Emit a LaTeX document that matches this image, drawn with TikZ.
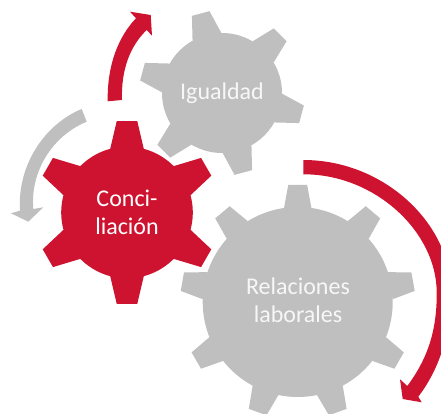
\documentclass[tikz,border=0pt]{standalone}
\usepackage{fontspec}
\setmainfont{Carlito}
\definecolor{gearred}{RGB}{206,19,48}
\definecolor{geargray}{RGB}{191,191,191}
\newcommand{\gearfill}[8]{%
  \fill (#1,#2) circle[radius=#3];
  \foreach \k in {1,...,#7}{
    \pgfmathsetmacro{\ang}{-(#8+360*\k/#7)}
    \fill ($(#1,#2)+(\ang-#5:#3)$) -- ($(#1,#2)+(\ang-#6:#4)$) -- ($(#1,#2)+(\ang+#6:#4)$) -- ($(#1,#2)+(\ang+#5:#3)$) -- cycle;
  }%
}
\usetikzlibrary{calc}
\tikzset{
  geartext/.style={align=center,text=#1,font=\fontsize{18}{21}\selectfont,inner sep=0pt},
}
\begin{document}
\begin{tikzpicture}[x=0.75pt,y=-0.75pt]
\useasboundingbox (0,0) rectangle (441,413);
\clip (0,0) rectangle (441,413);
\begin{scope}[fill=geargray]
  \gearfill{222}{93}{60}{82.8}{14.4}{6.3}{6}{45}
\end{scope}
\begin{scope}[fill=geargray]
  \gearfill{297.7}{302}{95}{117.5}{8.3}{4.6}{9}{90}
\end{scope}
\begin{scope}[fill=gearred]
  \gearfill{127}{212.5}{65.8}{92}{14.8}{6.4}{6}{90}
\end{scope}
\fill[gearred] (107.7,101.3) .. controls (107,66) and (118,37) .. (136,18.3)
  -- (130,11.7) -- (150.7,15) -- (152,35.7) -- (146.7,30)
  .. controls (130,46) and (121,70) .. (122,100) -- cycle;
\fill[geargray] (81.7,109) .. controls (45,124) and (17,165) .. (20,210.7)
  -- (11,213.3) -- (28.3,221.7) -- (43.3,207.3) -- (33.3,209)
  .. controls (30,172) and (52,136) .. (86.7,121.7) -- cycle;
\fill[gearred] (303.3,160) .. controls (385,160) and (452,225) .. (451,293)
  .. controls (451,340) and (435,375) .. (418.3,396.7)
  -- (421.7,402.3) -- (402.7,399) -- (400,379.3) -- (407.3,386)
  .. controls (425,362) and (437,335) .. (436.7,293)
  .. controls (437,232) and (375,174) .. (303.3,174.3) -- cycle;
\node[geartext=geargray!12!white] (igualdad) at (222,93) {Igualdad};
\node[geartext=white] (conciliacion) at (127,212) {Conci-\\liación};
\node[geartext=geargray!12!white] (relaciones) at (298,300) {Relaciones\\laborales};
\end{tikzpicture}
\end{document}
